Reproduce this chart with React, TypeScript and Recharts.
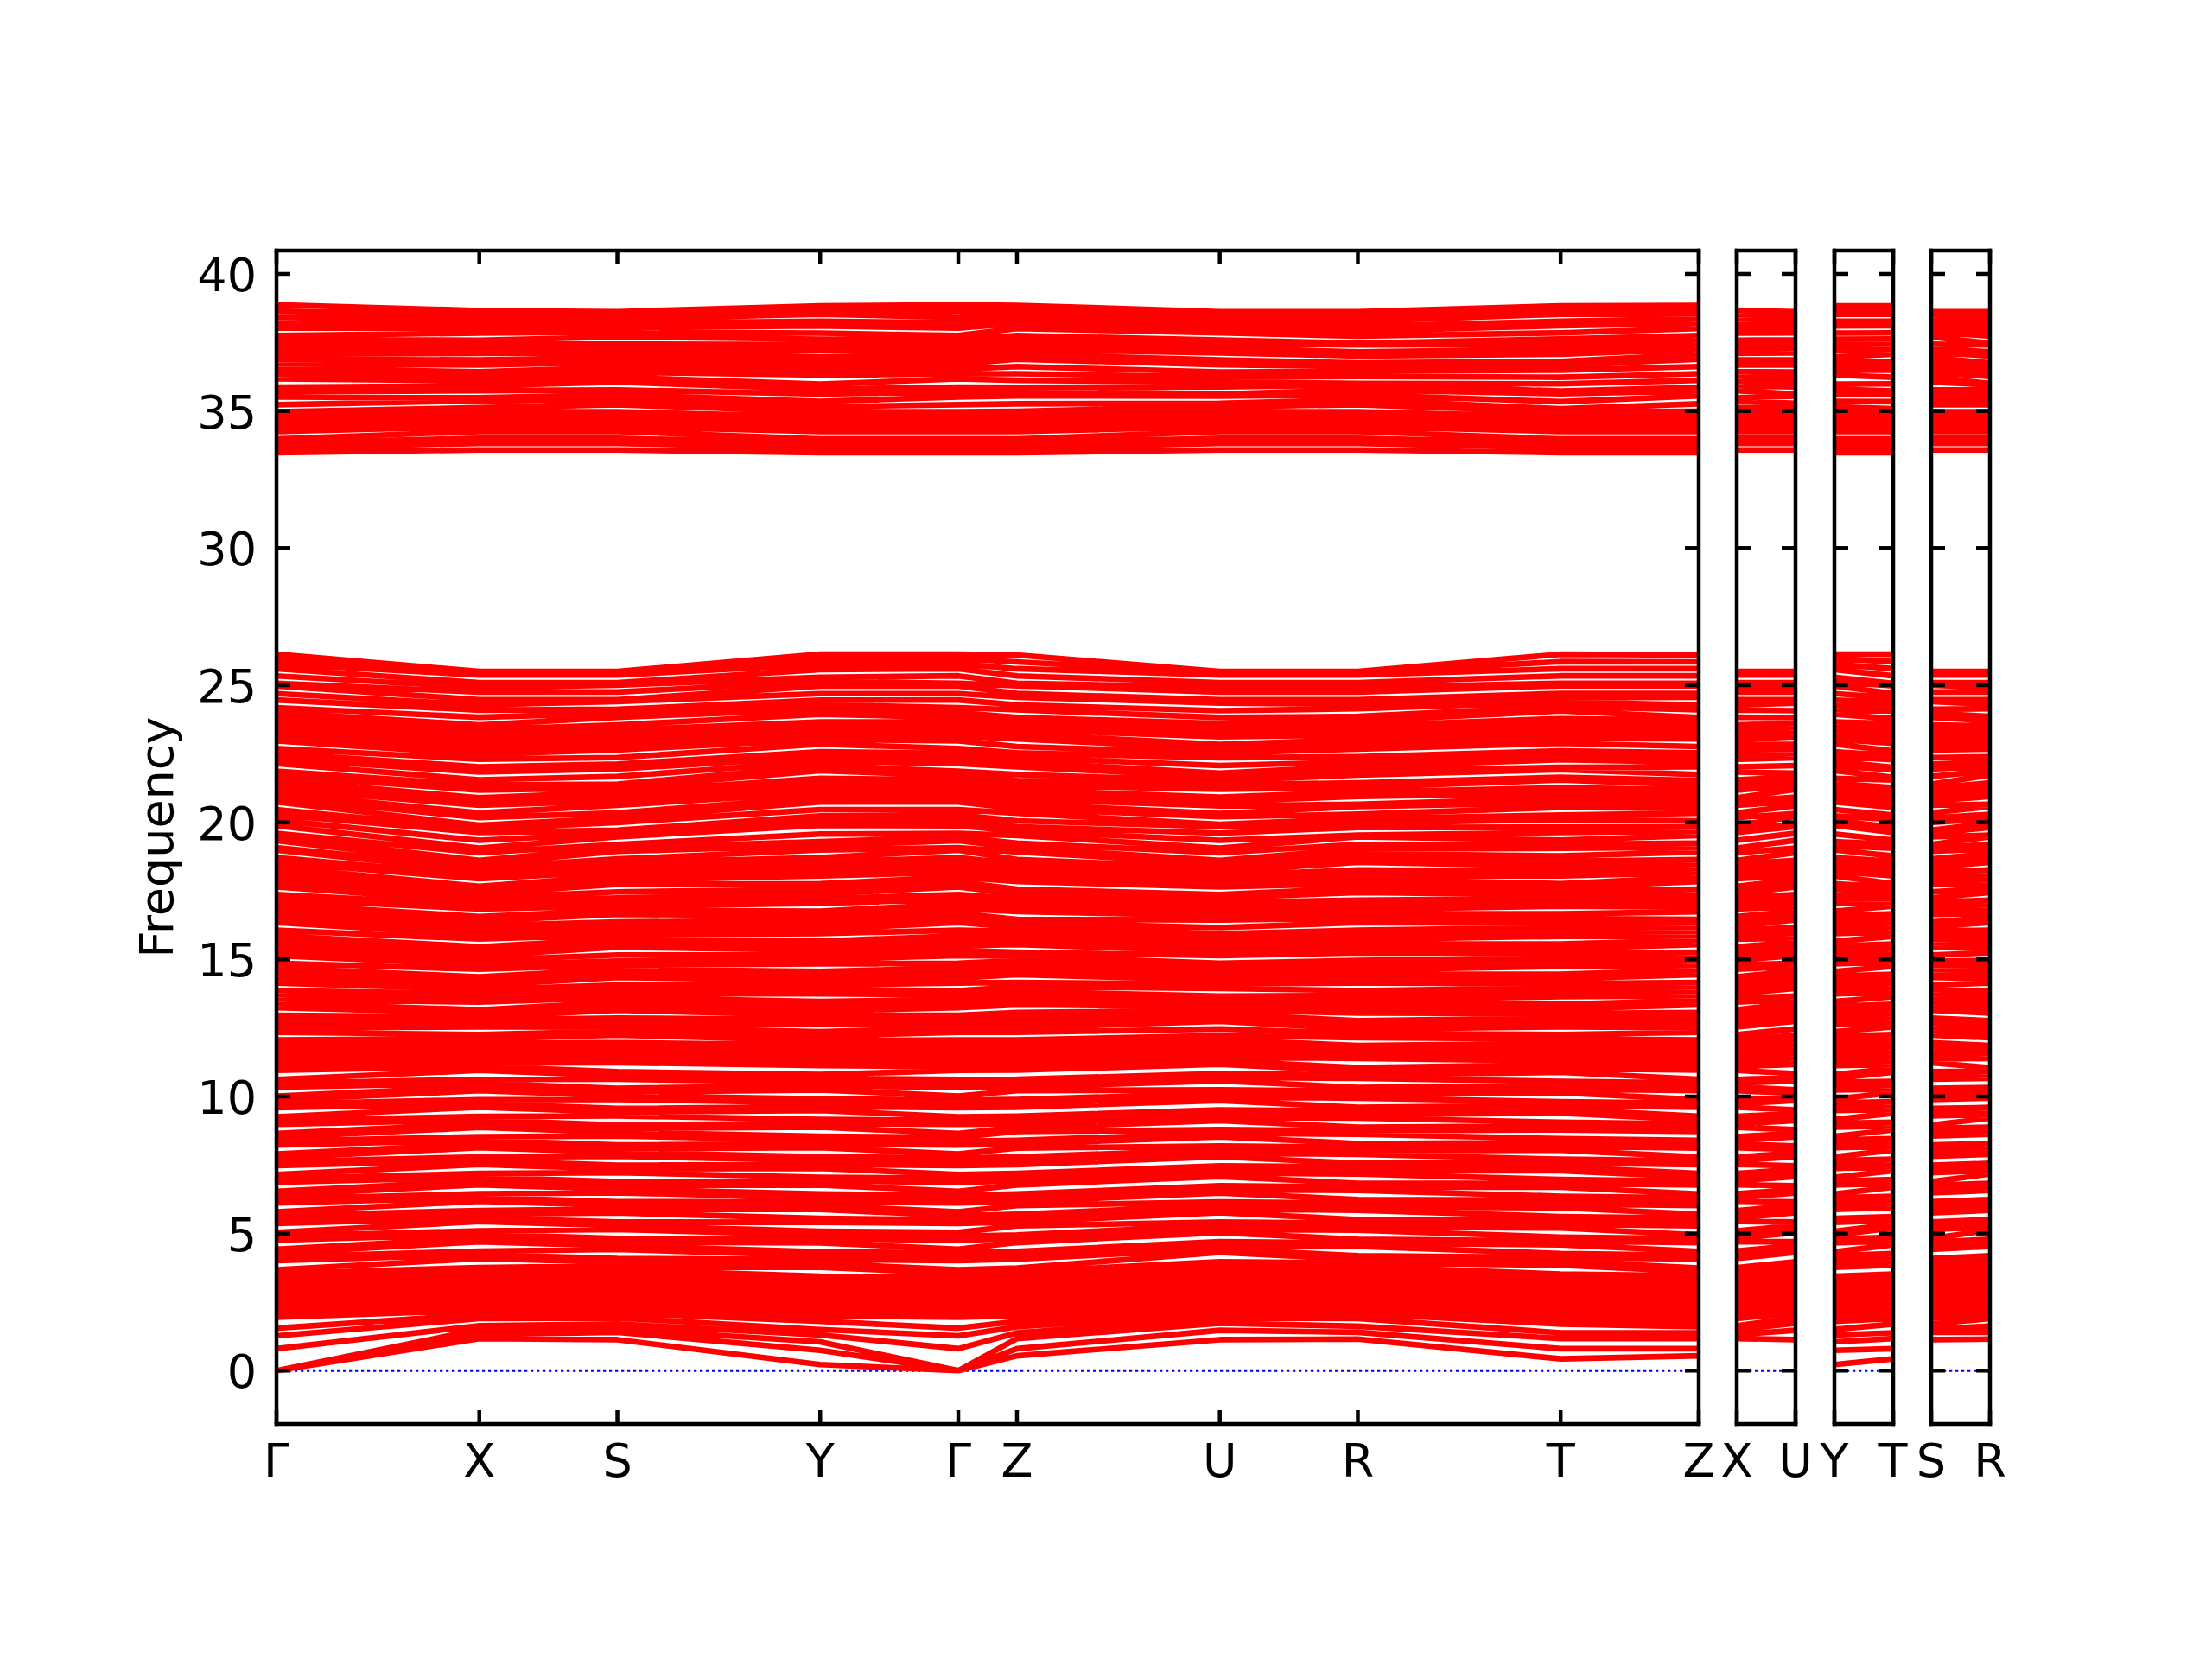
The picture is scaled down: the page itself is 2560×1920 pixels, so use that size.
import { LineChart, Line, XAxis, YAxis } from 'recharts';

const FONT = '"DejaVu Sans", sans-serif';
const RED = '#ff0000';

// path through the Brillouin zone, distances in arbitrary k units
const mainPath = ['Γ', 'X', 'S', 'Y', 'Γ', 'Z', 'U', 'R', 'T', 'Z'];
const mainK = [0, 2.35, 3.95, 6.3, 7.9, 8.58, 10.93, 12.53, 14.88, 16.48];
const sidePaths = [['X', 'U'], ['Y', 'T'], ['S', 'R']];
const sideK = [0, 0.68];

const freqTicks = [0, 5, 10, 15, 20, 25, 30, 35, 40];
const freqDomain = [-1.945, 40.85];

// frequencies at each high-symmetry point, sorted, split in groups
const G_low = [0, 0, 0, 0.8, 1.27, 1.55, 1.95, 2.15, 2.3, 2.5, 2.68, 2.86, 3.04, 3.22];
const X_low = [1.17, 1.32, 1.5, 1.64, 1.9, 2.05, 2.2, 2.38, 2.56, 2.72, 2.9, 3.06, 3.24, 3.42];
const S_low = [1.13, 1.4, 1.52, 1.7, 1.92, 2.1, 2.28, 2.46, 2.6, 2.78, 2.96, 3.12, 3.3, 3.48];
const Y_low = [0.22, 0.74, 1.05, 1.3, 1.5, 1.8, 2.0, 2.18, 2.36, 2.54, 2.72, 2.9, 3.08, 3.26];
const Z_low = [0.54, 0.8, 1.17, 1.38, 1.6, 1.8, 2.0, 2.2, 2.38, 2.56, 2.74, 2.92, 3.1, 3.28];
const U_low = [1.13, 1.47, 1.73, 1.92, 2.1, 2.26, 2.44, 2.62, 2.78, 2.96, 3.12, 3.3, 3.48, 3.66];
const R_low = [1.15, 1.4, 1.62, 1.9, 2.08, 2.24, 2.42, 2.6, 2.76, 2.94, 3.12, 3.28, 3.46, 3.62];
const T_low = [0.43, 0.8, 1.17, 1.38, 1.7, 1.9, 2.08, 2.26, 2.44, 2.62, 2.8, 2.98, 3.16, 3.34];

const G_mid = [
  3.4, 3.54, 3.68, 4.01, 4.15, 4.29, 4.43, 4.76, 4.9, 5.04,
  5.37, 5.51, 5.65, 5.79, 6.12, 6.26, 6.4, 6.54, 6.87, 7.01,
  7.15, 7.48, 7.62, 7.76, 7.9, 8.23, 8.37, 8.51, 8.65, 8.98,
  9.12, 9.26, 9.59, 9.73, 9.87, 10.01, 10.34, 10.48, 10.62, 10.95,
  11.09, 11.23,
];
const X_mid = [
  3.62, 3.76, 4.09, 4.23, 4.36, 4.7, 4.83, 4.97, 5.1, 5.44,
  5.57, 5.71, 5.84, 6.18, 6.31, 6.45, 6.78, 6.92, 7.05, 7.19,
  7.52, 7.66, 7.79, 8.13, 8.26, 8.4, 8.53, 8.87, 9.0, 9.14,
  9.27, 9.61, 9.74, 9.88, 10.21, 10.35, 10.48, 10.62, 10.95, 11.09,
  11.22, 11.36,
];
const S_mid = [
  3.68, 3.82, 3.95, 4.09, 4.42, 4.55, 4.69, 4.82, 5.15, 5.29,
  5.42, 5.75, 5.89, 6.02, 6.16, 6.49, 6.62, 6.76, 6.89, 7.22,
  7.36, 7.49, 7.82, 7.96, 8.09, 8.23, 8.56, 8.69, 8.83, 8.96,
  9.29, 9.43, 9.56, 9.89, 10.03, 10.16, 10.3, 10.63, 10.76, 10.9,
  11.23, 11.36,
];
const Y_mid = [
  3.44, 3.77, 3.91, 4.05, 4.19, 4.33, 4.66, 4.8, 4.94, 5.08,
  5.41, 5.55, 5.88, 6.02, 6.16, 6.3, 6.44, 6.77, 6.91, 7.05,
  7.38, 7.52, 7.66, 7.8, 8.13, 8.27, 8.41, 8.55, 8.88, 9.02,
  9.16, 9.49, 9.63, 9.77, 9.91, 10.24, 10.38, 10.52, 10.66, 10.8,
  11.13, 11.27,
];
const Z_mid = [
  3.46, 3.6, 3.74, 4.07, 4.21, 4.35, 4.67, 4.81, 4.95, 5.28,
  5.42, 5.56, 5.7, 6.02, 6.16, 6.3, 6.44, 6.77, 6.91, 7.05,
  7.19, 7.51, 7.65, 7.79, 8.12, 8.26, 8.4, 8.72, 8.86, 9.0,
  9.14, 9.28, 9.61, 9.75, 9.89, 10.21, 10.35, 10.49, 10.63, 10.96,
  11.1, 11.24,
];
const U_mid = [
  3.84, 3.97, 4.31, 4.44, 4.57, 4.7, 5.03, 5.16, 5.29, 5.42,
  5.76, 5.89, 6.02, 6.15, 6.48, 6.61, 6.74, 7.08, 7.21, 7.34,
  7.47, 7.8, 7.93, 8.06, 8.19, 8.53, 8.66, 8.79, 9.12, 9.25,
  9.38, 9.51, 9.85, 9.98, 10.11, 10.24, 10.57, 10.7, 10.83, 11.17,
  11.3, 11.43,
];
const R_mid = [
  3.8, 3.93, 4.06, 4.19, 4.53, 4.66, 4.79, 5.12, 5.25, 5.38,
  5.51, 5.85, 5.98, 6.11, 6.24, 6.57, 6.7, 6.83, 7.17, 7.3,
  7.43, 7.56, 7.89, 8.02, 8.15, 8.28, 8.62, 8.75, 8.88, 9.21,
  9.34, 9.47, 9.6, 9.94, 10.07, 10.2, 10.33, 10.66, 10.79, 10.92,
  11.05, 11.39,
];
const T_mid = [
  3.52, 3.85, 3.99, 4.13, 4.27, 4.59, 4.73, 4.87, 5.2, 5.34,
  5.48, 5.62, 5.94, 6.08, 6.22, 6.36, 6.69, 6.83, 6.97, 7.29,
  7.43, 7.57, 7.71, 8.04, 8.18, 8.32, 8.46, 8.78, 8.92, 9.06,
  9.39, 9.53, 9.67, 9.81, 10.13, 10.27, 10.41, 10.55, 10.88, 11.02,
  11.16, 11.3,
];

const G_high = [
  11.42, 11.58, 11.74, 11.9, 12.06, 12.34, 12.5, 12.65, 12.81, 12.96,
  13.24, 13.4, 13.55, 13.71, 13.86, 14.14, 14.32, 14.5, 14.68, 14.86,
  15.14, 15.32, 15.5, 15.68, 15.86, 16.06, 16.34, 16.51, 16.68, 16.85,
  17.02, 17.19, 17.36, 17.64, 17.82, 18.0, 18.18, 18.36, 18.54, 18.71,
  18.98, 19.07, 19.33, 19.46, 19.59, 19.87, 20.07, 20.27, 20.46, 20.74,
  20.9, 21.06, 21.22, 21.38, 21.54, 21.7, 21.86, 22.14, 22.32, 22.51,
  22.69, 22.97, 23.14, 23.31, 23.48, 23.65, 23.82, 24.0, 24.18, 24.46,
  24.69, 24.97, 25.07, 25.34, 25.6, 25.78, 25.96, 26.13,
];
const X_high = [
  11.5, 11.65, 11.8, 11.95, 12.11, 12.26, 12.54, 12.66, 12.79, 12.91,
  13.04, 13.16, 13.44, 13.59, 13.75, 13.9, 14.05, 14.21, 14.36, 14.64,
  14.8, 14.97, 15.13, 15.3, 15.46, 15.74, 15.9, 16.07, 16.23, 16.4,
  16.56, 16.84, 16.98, 17.11, 17.25, 17.39, 17.52, 17.66, 17.94, 18.07,
  18.21, 18.34, 18.48, 18.61, 18.89, 19.06, 19.34, 19.63, 19.76, 19.89,
  20.17, 20.34, 20.62, 20.76, 20.89, 21.17, 21.36, 21.55, 21.83, 22.02,
  22.3, 22.48, 22.66, 22.84, 23.02, 23.2, 23.38, 23.55, 23.83, 24.09,
  24.28, 24.47, 24.75, 24.92, 25.09, 25.37, 25.44, 25.5,
];
const S_high = [
  11.54, 11.68, 11.82, 11.96, 12.24, 12.38, 12.53, 12.67, 12.86, 13.14,
  13.29, 13.44, 13.6, 13.75, 13.9, 14.06, 14.34, 14.49, 14.64, 14.79,
  14.94, 15.16, 15.44, 15.59, 15.74, 15.89, 16.05, 16.2, 16.36, 16.64,
  16.79, 16.94, 17.09, 17.24, 17.46, 17.74, 17.89, 18.04, 18.2, 18.36,
  18.52, 18.66, 18.94, 19.07, 19.19, 19.47, 19.59, 19.71, 19.99, 20.15,
  20.34, 20.62, 20.78, 20.94, 21.1, 21.25, 21.39, 21.67, 21.94, 22.12,
  22.36, 22.64, 22.82, 23.0, 23.18, 23.36, 23.55, 23.83, 23.98, 24.12,
  24.4, 24.47, 24.75, 25.0, 25.09, 25.37, 25.44, 25.5,
];
const Y_high = [
  11.4, 11.56, 11.72, 11.88, 12.04, 12.2, 12.36, 12.64, 12.8, 12.96,
  13.12, 13.29, 13.46, 13.74, 13.9, 14.06, 14.22, 14.39, 14.56, 14.84,
  15.0, 15.16, 15.33, 15.49, 15.66, 15.94, 16.1, 16.26, 16.43, 16.59,
  16.76, 17.04, 17.21, 17.38, 17.55, 17.76, 18.04, 18.21, 18.38, 18.55,
  18.71, 18.99, 19.15, 19.29, 19.57, 19.89, 20.06, 20.23, 20.46, 20.74,
  20.91, 21.08, 21.25, 21.42, 21.6, 21.88, 22.05, 22.22, 22.39, 22.57,
  22.85, 23.02, 23.19, 23.36, 23.53, 23.66, 23.94, 24.11, 24.28, 24.45,
  24.69, 24.97, 25.13, 25.29, 25.57, 25.76, 25.95, 26.13,
];
const Z_high = [
  11.38, 11.55, 11.72, 11.89, 12.06, 12.34, 12.51, 12.68, 12.85, 13.06,
  13.34, 13.5, 13.67, 13.83, 14.0, 14.16, 14.44, 14.61, 14.78, 14.95,
  15.12, 15.26, 15.54, 15.7, 15.86, 16.02, 16.18, 16.34, 16.46, 16.74,
  16.9, 17.06, 17.22, 17.38, 17.56, 17.84, 18.0, 18.16, 18.32, 18.48,
  18.64, 18.92, 19.08, 19.24, 19.52, 19.68, 19.84, 20.05, 20.33, 20.5,
  20.67, 20.84, 21.01, 21.18, 21.35, 21.52, 21.74, 22.02, 22.19, 22.36,
  22.53, 22.76, 23.04, 23.21, 23.38, 23.55, 23.72, 23.82, 24.1, 24.28,
  24.56, 24.7, 24.98, 25.07, 25.34, 25.6, 25.85, 26.1,
];
const U_high = [
  11.58, 11.74, 11.9, 12.06, 12.22, 12.46, 12.74, 12.88, 13.01, 13.15,
  13.29, 13.42, 13.54, 13.66, 13.94, 14.1, 14.26, 14.42, 14.58, 14.74,
  14.86, 15.14, 15.3, 15.46, 15.62, 15.78, 15.94, 16.16, 16.44, 16.6,
  16.76, 16.92, 17.08, 17.24, 17.36, 17.64, 17.78, 17.92, 18.06, 18.2,
  18.34, 18.48, 18.61, 18.89, 19.06, 19.34, 19.6, 19.84, 19.92, 20.2,
  20.32, 20.6, 20.76, 20.92, 21.2, 21.36, 21.52, 21.66, 21.79, 22.07,
  22.35, 22.52, 22.68, 22.84, 23.12, 23.28, 23.44, 23.6, 23.82, 24.07,
  24.35, 24.47, 24.75, 24.92, 25.09, 25.37, 25.44, 25.5,
];
const R_high = [
  11.56, 11.66, 11.76, 11.86, 12.14, 12.3, 12.46, 12.62, 12.76, 13.04,
  13.2, 13.36, 13.52, 13.68, 13.86, 14.14, 14.3, 14.46, 14.62, 14.78,
  14.96, 15.24, 15.4, 15.56, 15.72, 15.88, 16.06, 16.34, 16.5, 16.66,
  16.82, 16.98, 17.16, 17.44, 17.6, 17.76, 17.92, 18.08, 18.26, 18.54,
  18.7, 18.86, 19.02, 19.19, 19.47, 19.53, 19.81, 19.97, 20.13, 20.29,
  20.57, 20.66, 20.94, 21.1, 21.27, 21.44, 21.72, 21.88, 22.04, 22.2,
  22.39, 22.67, 22.84, 23.01, 23.18, 23.35, 23.52, 23.69, 23.86, 24.14,
  24.3, 24.47, 24.75, 24.92, 25.09, 25.37, 25.44, 25.5,
];
const T_high = [
  11.46, 11.62, 11.78, 11.94, 12.1, 12.26, 12.54, 12.7, 12.86, 13.02,
  13.19, 13.36, 13.64, 13.8, 13.96, 14.12, 14.29, 14.46, 14.74, 14.9,
  15.06, 15.22, 15.39, 15.56, 15.84, 16.0, 16.16, 16.32, 16.49, 16.66,
  16.94, 17.08, 17.22, 17.36, 17.5, 17.63, 17.76, 18.04, 18.22, 18.4,
  18.58, 18.77, 19.05, 19.2, 19.35, 19.63, 19.82, 20.1, 20.26, 20.54,
  20.71, 20.88, 21.05, 21.26, 21.54, 21.64, 21.92, 22.0, 22.28, 22.44,
  22.6, 22.88, 23.06, 23.24, 23.42, 23.6, 23.78, 24.06, 24.22, 24.38,
  24.54, 24.7, 24.98, 25.07, 25.34, 25.6, 25.86, 26.13,
];

const G_up = [
  33.48, 33.66, 33.84, 33.98, 34.25, 34.43, 34.61, 34.79, 34.97, 35.23,
  35.51, 35.69, 35.87, 36.17, 36.35, 36.53, 36.71, 36.89, 37.07, 37.25,
  37.43, 37.6, 37.75, 38.02, 38.22, 38.42, 38.64, 38.87,
];
const X_up = [
  33.58, 33.82, 34.0, 34.25, 34.43, 34.61, 34.79, 34.97, 35.12, 35.37,
  35.48, 35.74, 35.92, 36.1, 36.28, 36.43, 36.68, 36.86, 37.1, 37.28,
  37.46, 37.58, 37.84, 38.02, 38.2, 38.36, 38.52, 38.66,
];
const S_up = [
  33.58, 33.82, 34.0, 34.25, 34.43, 34.61, 34.79, 34.97, 35.23, 35.41,
  35.59, 35.77, 36.05, 36.23, 36.41, 36.59, 36.77, 36.95, 37.13, 37.29,
  37.44, 37.7, 37.88, 38.04, 38.2, 38.36, 38.5, 38.62,
];
const Y_up = [
  33.48, 33.66, 33.84, 33.98, 34.25, 34.43, 34.61, 34.79, 34.97, 35.15,
  35.35, 35.62, 35.8, 35.98, 36.31, 36.49, 36.67, 36.85, 36.97, 37.22,
  37.42, 37.62, 37.84, 38.1, 38.27, 38.53, 38.69, 38.83,
];
const Z_up = [
  33.48, 33.66, 33.84, 33.98, 34.25, 34.43, 34.61, 34.79, 34.99, 35.26,
  35.55, 35.73, 35.86, 36.12, 36.36, 36.62, 36.89, 37.07, 37.25, 37.43,
  37.61, 37.75, 38.01, 38.19, 38.37, 38.55, 38.64, 38.85,
];
const U_up = [
  33.58, 33.82, 34.0, 34.25, 34.43, 34.61, 34.79, 34.97, 35.15, 35.28,
  35.54, 35.62, 35.88, 36.06, 36.24, 36.42, 36.68, 36.86, 37.12, 37.3,
  37.46, 37.59, 37.85, 38.02, 38.19, 38.35, 38.5, 38.62,
];
const R_up = [
  33.58, 33.82, 34.0, 34.25, 34.43, 34.61, 34.79, 34.97, 35.23, 35.41,
  35.59, 35.77, 35.95, 36.0, 36.26, 36.44, 36.62, 36.75, 37.01, 37.15,
  37.41, 37.47, 37.73, 37.91, 38.09, 38.27, 38.45, 38.62,
];
const T_up = [
  33.48, 33.66, 33.84, 33.98, 34.25, 34.43, 34.61, 34.79, 34.97, 35.08,
  35.34, 35.63, 35.73, 35.99, 36.23, 36.49, 36.67, 36.81, 37.07, 37.25,
  37.43, 37.63, 37.85, 38.11, 38.27, 38.53, 38.68, 38.83,
];

const bands: Record<string, number[][]> = {
  'Γ': [G_low, G_mid, G_high, G_up],
  X: [X_low, X_mid, X_high, X_up],
  S: [S_low, S_mid, S_high, S_up],
  Y: [Y_low, Y_mid, Y_high, Y_up],
  Z: [Z_low, Z_mid, Z_high, Z_up],
  U: [U_low, U_mid, U_high, U_up],
  R: [R_low, R_mid, R_high, R_up],
  T: [T_low, T_mid, T_high, T_up],
};

// one row per (band, point), a null row breaks the line between bands
function buildRows(path: string[], ks: number[]) {
  const rows: { k: number; f: number | null }[] = [];
  for (let g = 0; g < 4; g++) {
    const n = Math.min(...path.map((p) => bands[p][g].length));
    for (let b = 0; b < n; b++) {
      path.forEach((p, i) => rows.push({ k: ks[i], f: bands[p][g][b] }));
      rows.push({ k: ks[ks.length - 1], f: null });
    }
  }
  return rows;
}

const PLOT_TOP = 290;
const PLOT_BOTTOM = 1648;
const TICK = 16;
const frame = { stroke: '#000', strokeWidth: 4.5, strokeLinecap: 'square' as const };

function Panel({ left, right, path, ks, padL, showY }: {
  left: number; right: number; path: string[]; ks: number[]; padL: number; showY: boolean;
}) {
  const padR = 40;
  const width = padL + (right - left) + padR;
  const rows = buildRows(path, ks);
  const zero = [{ k: ks[0], f: 0 }, { k: ks[ks.length - 1], f: 0 }];
  const kDomain = [ks[0], ks[ks.length - 1]];

  return (
    <div style={{ position: 'absolute', left: left - padL, top: 0 }}>
      <LineChart
        width={width}
        height={1920}
        margin={{ left: padL - 10, right: padR - 10, top: PLOT_TOP - 10, bottom: 1920 - PLOT_BOTTOM - 10 }}
      >
        <Line xAxisId="t" yAxisId="r" data={zero} dataKey="f" stroke="#0000ff" strokeWidth={3}
          strokeDasharray="3.3 3.7" dot={false} activeDot={false} isAnimationActive={false} />
        <Line xAxisId="b" yAxisId="l" data={rows} dataKey="f" stroke={RED} strokeWidth={6.6}
          strokeLinejoin="round" strokeLinecap="butt" dot={false} activeDot={false} isAnimationActive={false} />
        <XAxis xAxisId="b" orientation="bottom" type="number" dataKey="k" domain={kDomain} ticks={ks}
          allowDataOverflow interval={0} height={10} tickSize={0} tickMargin={0} tickLine={false} axisLine={frame}
          tick={(p: any) => (
            <g>
              <line x1={p.x} y1={p.y} x2={p.x} y2={p.y - TICK} stroke="#000" strokeWidth={4.5} />
              <text x={p.x} y={p.y + 61} textAnchor="middle" fontSize={54} fontFamily={FONT} fill="#000">
                {path[p.index]}
              </text>
            </g>
          )} />
        <XAxis xAxisId="t" orientation="top" type="number" dataKey="k" domain={kDomain} ticks={ks}
          allowDataOverflow interval={0} height={10} tickSize={0} tickMargin={0} tickLine={false} axisLine={frame}
          tick={(p: any) => (
            <line x1={p.x} y1={p.y} x2={p.x} y2={p.y + TICK} stroke="#000" strokeWidth={4.5} />
          )} />
        <YAxis yAxisId="l" orientation="left" type="number" domain={freqDomain} ticks={freqTicks}
          allowDataOverflow interval={0} width={10} tickSize={0} tickMargin={0} tickLine={false} axisLine={frame}
          tick={(p: any) => (
            <g>
              <line x1={p.x} y1={p.y} x2={p.x + TICK} y2={p.y} stroke="#000" strokeWidth={4.5} />
              {showY && (
                <text x={p.x - 23} y={p.y + 20} textAnchor="end" fontSize={54} fontFamily={FONT} fill="#000">
                  {p.payload.value}
                </text>
              )}
            </g>
          )} />
        <YAxis yAxisId="r" orientation="right" type="number" domain={freqDomain} ticks={freqTicks}
          allowDataOverflow interval={0} width={10} tickSize={0} tickMargin={0} tickLine={false} axisLine={frame}
          tick={(p: any) => (
            <line x1={p.x} y1={p.y} x2={p.x - TICK} y2={p.y} stroke="#000" strokeWidth={4.5} />
          )} />
      </LineChart>
    </div>
  );
}

const sideBoxes = [[2010, 2078], [2123, 2191], [2235, 2303]];

export default function App() {
  return (
    <div style={{ position: 'absolute', left: 0, top: 0, width: 2560, height: 1920, background: '#fff', overflow: 'hidden' }}>
      <svg style={{ position: 'absolute', left: 0, top: 0 }} width={300} height={1920}>
        <text x={200} y={969} transform="rotate(-90 200 969)" textAnchor="middle" fontSize={54} fontFamily={FONT} fill="#000">
          Frequency
        </text>
      </svg>
      <Panel left={320} right={1966} path={mainPath} ks={mainK} padL={320} showY />
      {sidePaths.map((p, i) => (
        <Panel key={i} left={sideBoxes[i][0]} right={sideBoxes[i][1]} path={p} ks={sideK} padL={30} showY={false} />
      ))}
    </div>
  );
}
